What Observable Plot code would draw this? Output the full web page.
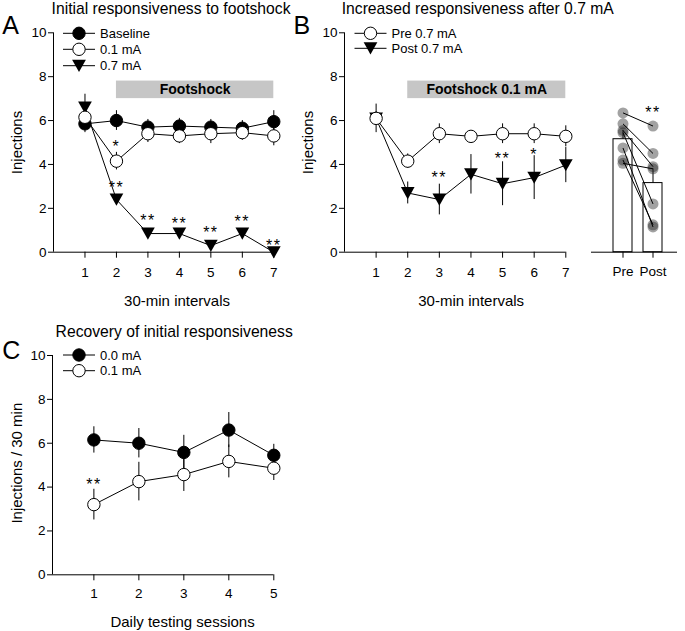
<!DOCTYPE html>
<html>
<head>
<meta charset="utf-8">
<script src="https://cdn.jsdelivr.net/npm/d3@7"></script>
<script src="https://cdn.jsdelivr.net/npm/@observablehq/plot@0.6"></script>
<style>
  html, body { margin: 0; padding: 0; background: #fff; }
  #wrap { position: relative; width: 685px; height: 631px; overflow: hidden; background: #fff; }
  #wrap > div { position: absolute; }
  #wrap svg { overflow: visible; }
  .stars text { letter-spacing: 1.5px; }
</style>
</head>
<body>
<div id="wrap">
  <div id="pA" style="left:0px;top:0px;width:300px;height:312px"></div>
  <div id="pB" style="left:290px;top:0px;width:300px;height:312px"></div>
  <div id="pB2" style="left:580px;top:0px;width:105px;height:312px"></div>
  <div id="pC" style="left:0px;top:312px;width:300px;height:319px"></div>
</div>
<script>
// ---------------- DATA ----------------
const yTicks = [0, 2, 4, 6, 8, 10];
const intervals = [1, 2, 3, 4, 5, 6, 7];
const sessions = [1, 2, 3, 4, 5];

// Panel A
const titleA = "Initial responsiveness to footshock";
const legendA = ["Baseline", "0.1 mA", "0.7 mA"];
const baselineA = [5.85, 6.0, 5.7, 5.75, 5.7, 5.65, 5.95];
const baselineAErr = [0.4, 0.45, 0.35, 0.35, 0.35, 0.35, 0.5];
const shock01A = [6.15, 4.15, 5.4, 5.3, 5.4, 5.45, 5.3];
const shock01AErr = [0.4, 0.4, 0.4, 0.35, 0.45, 0.35, 0.45];
const shock07A = [6.6, 2.4, 0.85, 0.85, 0.3, 0.85, 0.0];
const shock07AErr = [0.6, 0.2, 0.1, 0.1, 0.1, 0.15, 0.0];
const starXA = [2, 2, 3, 4, 5, 6, 7];
const starYA = [5.0, 3.1, 1.6, 1.5, 1.05, 1.55, 0.5];
const starLabelA = ["*", "**", "**", "**", "**", "**", "**"];
const shockSpanA = [2, 7];
const shockBandA = [7.0, 7.8];
const shockLabelA = "Footshock";

// Panel B
const titleB = "Increased responsiveness after 0.7 mA";
const legendB = ["Pre 0.7 mA", "Post 0.7 mA"];
const preB = [6.1, 4.15, 5.4, 5.28, 5.4, 5.4, 5.28];
const preBErr = [0.3, 0.33, 0.45, 0.15, 0.45, 0.45, 0.48];
const postB = [6.1, 2.7, 2.4, 3.55, 3.12, 3.4, 3.97];
const postBErr = [0.65, 0.5, 0.7, 0.9, 1.0, 1.0, 0.8];
const starXB = [3, 5, 6];
const starYB = [3.57, 4.45, 4.63];
const starLabelB = ["**", "**", "*"];
const shockSpanB = [2, 7];
const shockBandB = [7.0, 7.8];
const shockLabelB = "Footshock 0.1 mA";

// Panel B, bar inset
const groupsB = ["Pre", "Post"];
const meansB = [5.15, 3.15];
const semsB = [0.4, 0.65];
const subjectPre = [6.35, 5.85, 5.55, 5.45, 4.75, 4.2, 4.05];
const subjectPost = [5.75, 4.5, 3.9, 2.2, 1.15, 1.25, 3.8];
const starBarGroup = "Post";
const starBarY = 6.54;
const starBarLabel = "**";

// Panel C
const titleC = "Recovery of initial responsiveness";
const legendC = ["0.0 mA", "0.1 mA"];
const recov00 = [6.15, 6.0, 5.58, 6.6, 5.45];
const recov00Err = [0.6, 0.67, 0.78, 0.8, 0.5];
const recov01 = [3.2, 4.25, 4.57, 5.17, 4.86];
const recov01Err = [0.7, 0.88, 0.77, 0.75, 0.56];
const starXC = [1];
const starYC = [4.3];
const starLabelC = ["**"];

// ---------------- HELPERS ----------------
const FONT = '"Liberation Sans", Arial, Helvetica, sans-serif';
const triDown = {
  draw(ctx, size) {
    const r = Math.sqrt(size / Math.PI);
    ctx.moveTo(-1.04 * r, -0.9 * r);
    ctx.lineTo(1.04 * r, -0.9 * r);
    ctx.lineTo(0, 0.95 * r);
    ctx.closePath();
  }
};
const R_CIRCLE = 6.2, R_TRI = 6.6;
const baseStyle = {fontFamily: FONT, fontSize: "13.5px", color: "black", background: "transparent", overflow: "visible"};

function rows(xs, ys, es) { return xs.map((x, i) => ({x, y: ys[i], e: es ? es[i] : 0})); }
function starRows(xs, ys, labels) { return xs.map((x, i) => ({x, y: ys[i], s: labels[i]})); }

function seriesLayers(series) {
  const err = series.map(s => Plot.ruleX(s.data, {x: "x", y1: d => d.y - d.e, y2: d => d.y + d.e, stroke: "black", strokeWidth: 1}));
  const lines = series.map(s => Plot.line(s.data, {x: "x", y: "y", stroke: "black", strokeWidth: 1}));
  const dots = series.map(s => s.kind === "tri"
    ? Plot.dot(s.data, {x: "x", y: "y", symbol: triDown, r: R_TRI, fill: "black", stroke: "none"})
    : Plot.dot(s.data, {x: "x", y: "y", r: R_CIRCLE, fill: s.kind === "filled" ? "black" : "white", stroke: "black", strokeWidth: 1}));
  return [...err, ...lines, ...dots];
}

function symbolPath(kind) {
  if (kind === "tri") return d3.symbol(triDown, Math.PI * R_TRI * R_TRI)();
  return d3.symbol(d3.symbolCircle, Math.PI * R_CIRCLE * R_CIRCLE)();
}

// legend drawn inside the plot's svg (layout constants in pixels)
function legendMark(labels, kinds, cx, ys) {
  return () => {
    const g = d3.create("svg:g");
    labels.forEach((lab, i) => {
      const y = ys[i];
      g.append("line").attr("x1", cx - 16).attr("x2", cx + 16).attr("y1", y).attr("y2", y)
        .attr("stroke", "black").attr("stroke-width", 1);
      g.append("path").attr("d", symbolPath(kinds[i])).attr("transform", `translate(${cx},${y})`)
        .attr("fill", kinds[i] === "open" ? "white" : "black")
        .attr("stroke", kinds[i] === "tri" ? "none" : "black").attr("stroke-width", 1);
      g.append("text").attr("x", cx + 21).attr("y", y).attr("dy", "0.35em")
        .attr("text-anchor", "start")
        .attr("font-size", 13).attr("font-family", FONT).attr("fill", "black").text(lab);
    });
    return g.node();
  };
}

function shockLayers(span, band, label) {
  const box = [{x1: span[0], x2: span[1], y1: band[0], y2: band[1], label}];
  return [
    Plot.rect(box, {x1: "x1", x2: "x2", y1: "y1", y2: "y2", fill: "#c6c6c6"}),
    Plot.text(box, {x: d => (d.x1 + d.x2) / 2, y: d => (d.y1 + d.y2) / 2, text: "label",
      fontWeight: "bold", fontSize: 14, lineAnchor: "middle", fill: "black"})
  ];
}

function starLayer(data, xKey = "x") {
  return Plot.text(data, {x: xKey, y: "y", text: "s", fontSize: 16, lineAnchor: "bottom", dy: 9.3,
    fill: "black", className: "stars"});
}

function frameTexts({letter, letterDx, letterDy, title, titleDx, titleDy, ylabel, ylabelDx, ylabelDy = 0, xlabel, xlabelDx, xlabelDy}) {
  return [
    Plot.text([letter], {text: d => d, frameAnchor: "top-left", textAnchor: "start", lineAnchor: "bottom",
      dx: letterDx, dy: letterDy, fontSize: 25, fill: "black"}),
    Plot.text([title], {text: d => d, frameAnchor: "top", textAnchor: "middle", lineAnchor: "bottom", dx: titleDx, dy: titleDy,
      fontSize: 15.7, fill: "black"}),
    Plot.text([ylabel], {text: d => d, frameAnchor: "left", rotate: -90, textAnchor: "middle", lineAnchor: "middle",
      dx: ylabelDx, dy: ylabelDy, fontSize: 15, fill: "black"}),
    Plot.text([xlabel], {text: d => d, frameAnchor: "bottom", textAnchor: "middle", lineAnchor: "bottom", dx: xlabelDx, dy: xlabelDy,
      fontSize: 15, fill: "black"})
  ];
}

// ---------------- PANEL A ----------------
const plotA = Plot.plot({
  width: 300, height: 312,
  marginLeft: 53, marginRight: 26.7, marginTop: 32.3, marginBottom: 60.3,
  x: {domain: [0, 7], label: null},
  y: {domain: [0, 10], label: null},
  style: baseStyle,
  marks: [
    ...shockLayers(shockSpanA, shockBandA, shockLabelA),
    Plot.ruleX([0], {stroke: "black"}),
    Plot.ruleY([0], {stroke: "black"}),
    Plot.axisY({ticks: yTicks, tickFormat: "d", tickSize: 5, tickPadding: 2, label: null}),
    Plot.axisX({ticks: intervals, tickFormat: "d", tickSize: 6, tickPadding: 9, label: null}),
    ...seriesLayers([
      {data: rows(intervals, baselineA, baselineAErr), kind: "filled"},
      {data: rows(intervals, shock07A, shock07AErr), kind: "tri"},
      {data: rows(intervals, shock01A, shock01AErr), kind: "open"}
    ]),
    starLayer(starRows(starXA, starYA, starLabelA)),
    ...frameTexts({letter: "A", letterDx: -51.3, letterDy: 0.7, title: titleA, titleDx: 7.4, titleDy: -18.8,
      ylabel: "Injections", ylabelDx: -36, xlabel: "30-min intervals", xlabelDx: 13.4, xlabelDy: 53.3}),
    legendMark(legendA, ["filled", "open", "tri"], 79, [33.3, 49.3, 65.7])
  ]
});
document.getElementById("pA").appendChild(plotA);

// ---------------- PANEL B ----------------
const plotB = Plot.plot({
  width: 300, height: 312,
  marginLeft: 54, marginRight: 24.7, marginTop: 32.3, marginBottom: 60.3,
  x: {domain: [0, 7], label: null},
  y: {domain: [0, 10], label: null},
  style: baseStyle,
  marks: [
    ...shockLayers(shockSpanB, shockBandB, shockLabelB),
    Plot.ruleX([0], {stroke: "black"}),
    Plot.ruleY([0], {stroke: "black"}),
    Plot.axisY({ticks: yTicks, tickFormat: "d", tickSize: 5, tickPadding: 2, label: null}),
    Plot.axisX({ticks: intervals, tickFormat: "d", tickSize: 6, tickPadding: 9, label: null}),
    ...seriesLayers([
      {data: rows(intervals, postB, postBErr), kind: "tri"},
      {data: rows(intervals, preB, preBErr), kind: "open"}
    ]),
    starLayer(starRows(starXB, starYB, starLabelB)),
    ...frameTexts({letter: "B", letterDx: -51, letterDy: 0.7, title: titleB, titleDx: 22.6, titleDy: -18.8,
      ylabel: "Injections", ylabelDx: -36.5, xlabel: "30-min intervals", xlabelDx: 16, xlabelDy: 53.3}),
    legendMark(legendB, ["open", "tri"], 80.5, [33.3, 48.3])
  ]
});
document.getElementById("pB").appendChild(plotB);

// ---------------- PANEL B inset (Pre / Post bars) ----------------
const barRows = groupsB.map((g, i) => ({g, m: meansB[i], e: semsB[i]}));
const subjectRows = [
  ...subjectPre.map(v => ({g: groupsB[0], v})),
  ...subjectPost.map(v => ({g: groupsB[1], v}))
];
const pairRows = subjectPre.map((v, i) => ({a: groupsB[0], b: groupsB[1], pre: v, post: subjectPost[i]}));

const plotB2 = Plot.plot({
  width: 105, height: 312,
  marginLeft: 11, marginRight: 8, marginTop: 32.3, marginBottom: 60.3,
  x: {type: "band", domain: groupsB, paddingInner: 0.379, paddingOuter: 0.595, align: 0.596, label: null},
  y: {domain: [0, 10], label: null, axis: null},
  style: baseStyle,
  marks: [
    Plot.barY(barRows, {x: "g", y: "m", fill: "white", stroke: "black", strokeWidth: 1}),
    Plot.ruleX(barRows, {x: "g", y1: "m", y2: d => d.m + d.e, stroke: "black", strokeWidth: 1}),
    Plot.ruleY([0], {stroke: "black"}),
    Plot.axisX({tickSize: 6, tickPadding: 8, label: null}),
    Plot.dot(subjectRows, {x: "g", y: "v", r: 5.5, fill: "#222", fillOpacity: 0.42, stroke: "none"}),
    Plot.link(pairRows, {x1: "a", x2: "b", y1: "pre", y2: "post", stroke: "black", strokeWidth: 1}),
    starLayer([{g: starBarGroup, y: starBarY, s: starBarLabel}], "g")
  ]
});
document.getElementById("pB2").appendChild(plotB2);

// ---------------- PANEL C ----------------
const plotC = Plot.plot({
  width: 300, height: 319,
  marginLeft: 52, marginRight: 26.7, marginTop: 43, marginBottom: 56.7,
  x: {domain: [0.08, 5], label: null},
  y: {domain: [0, 10], label: null},
  style: baseStyle,
  marks: [
    Plot.ruleX([0.08], {stroke: "black"}),
    Plot.ruleY([0], {stroke: "black"}),
    Plot.axisY({ticks: yTicks, tickFormat: "d", tickSize: 5, tickPadding: 2, label: null}),
    Plot.axisX({ticks: sessions, tickFormat: "d", tickSize: 6, tickPadding: 8, label: null}),
    ...seriesLayers([
      {data: rows(sessions, recov00, recov00Err), kind: "filled"},
      {data: rows(sessions, recov01, recov01Err), kind: "open"}
    ]),
    starLayer(starRows(starXC, starYC, starLabelC)),
    ...frameTexts({letter: "C", letterDx: -50.3, letterDy: 3, title: titleC, titleDx: 11, titleDy: -18.5,
      ylabel: "Injections / 30 min", ylabelDx: -35, ylabelDy: -2, xlabel: "Daily testing sessions", xlabelDx: 19.4, xlabelDy: 51.7}),
    legendMark(legendC, ["filled", "open"], 79, [43, 58.7])
  ]
});
document.getElementById("pC").appendChild(plotC);
</script>
</body>
</html>
